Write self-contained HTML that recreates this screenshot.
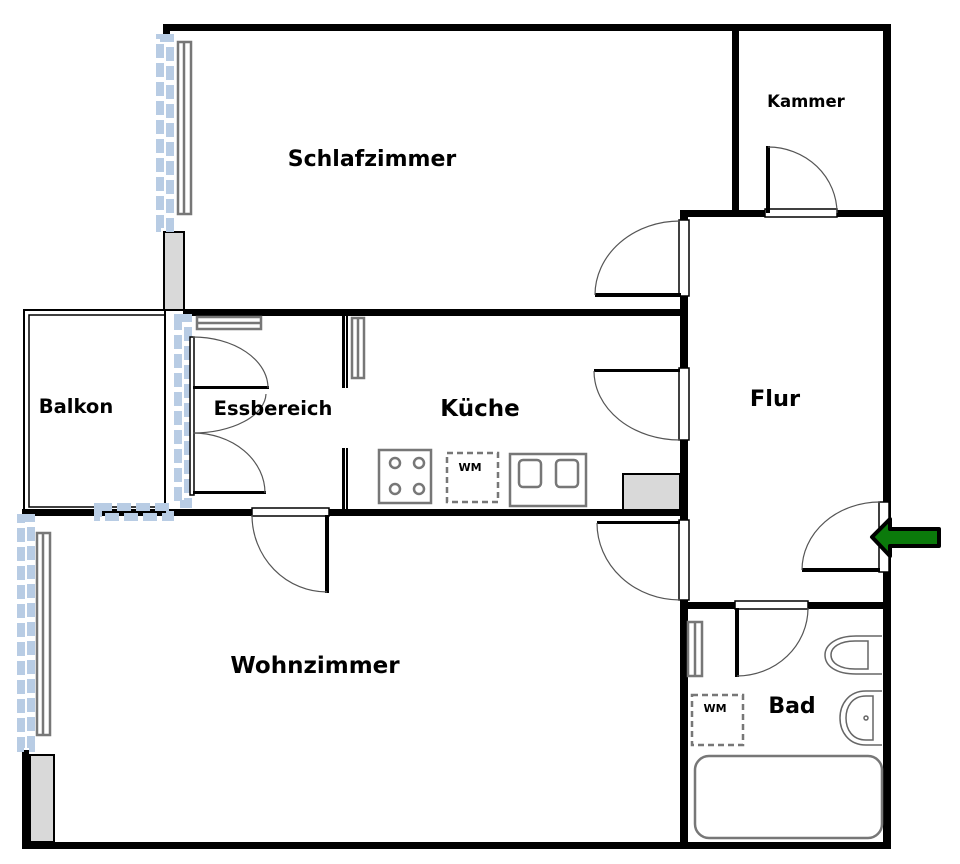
<!DOCTYPE html>
<html><head><meta charset="utf-8"><style>
html,body{margin:0;padding:0;background:#fff;}
svg{display:block}
text{font-family:"DejaVu Sans","Liberation Sans",sans-serif;font-weight:bold;fill:#000}
</style></head><body>
<svg width="960" height="864" viewBox="0 0 960 864" xmlns="http://www.w3.org/2000/svg">
<rect width="960" height="864" fill="#fff"/>
<rect x="24" y="310" width="141" height="202" fill="none" stroke="#000" stroke-width="2"/>
<rect x="29" y="315" width="136" height="192" fill="none" stroke="#000" stroke-width="1.5"/>
<g fill="#000">
<rect x="163" y="24" width="728" height="7"/>
<rect x="883" y="24" width="8" height="824"/>
<rect x="22" y="842" width="869" height="7"/>
<rect x="22" y="750" width="7" height="98"/>
<rect x="163" y="24" width="7" height="12"/>
<rect x="183" y="309" width="503" height="7"/>
<rect x="732" y="24" width="7" height="192"/>
<rect x="680" y="210" width="211" height="7"/>
<rect x="680" y="210" width="8" height="638"/>
<rect x="22" y="509" width="664" height="7"/>
<rect x="680" y="602" width="211" height="7"/>
</g>
<rect x="164" y="232" width="20" height="78" fill="#d9d9d9" stroke="#000" stroke-width="2"/>
<rect x="30" y="755" width="24" height="87" fill="#d9d9d9" stroke="#000" stroke-width="2"/>
<rect x="623" y="474" width="57" height="36" fill="#d9d9d9" stroke="#000" stroke-width="2"/>
<g fill="none" stroke="#b8cce4" stroke-width="8" stroke-dasharray="14,5">
<rect x="160" y="38" width="10" height="190"/>
<rect x="178" y="318" width="10" height="186"/>
<rect x="98" y="507" width="72" height="10"/>
<rect x="21" y="518" width="10" height="230"/>
</g>
<g fill="none" stroke="#777" stroke-width="2.5">
<rect x="178" y="42" width="13" height="172"/><line x1="184" y1="42" x2="184" y2="214"/>
<rect x="37" y="533" width="13" height="202"/><line x1="43" y1="533" x2="43" y2="735"/>
<rect x="197" y="317" width="64" height="12"/><line x1="197" y1="323" x2="261" y2="323"/>
<rect x="352" y="318" width="12" height="60"/><line x1="358" y1="318" x2="358" y2="378"/>
<rect x="688" y="622" width="14" height="54"/><line x1="695" y1="622" x2="695" y2="676"/>
</g>
<g fill="#000">
<rect x="342" y="316" width="3" height="72"/><rect x="346" y="316" width="2" height="72"/>
<rect x="342" y="448" width="3" height="62"/><rect x="346" y="448" width="2" height="62"/>
</g>
<g fill="#fff" stroke="#000" stroke-width="1.5">
<rect x="679" y="220" width="10" height="76"/>
<rect x="765" y="209" width="72" height="8"/>
<rect x="679" y="368" width="10" height="72"/>
<rect x="679" y="520" width="10" height="80"/>
<rect x="252" y="508" width="77" height="8"/>
<rect x="879" y="502" width="10" height="70"/>
<rect x="735" y="601" width="73" height="8"/>
<rect x="190" y="337" width="4" height="158"/>
</g>
<g fill="#000">
<rect x="595" y="293" width="86" height="4"/>
<rect x="766" y="146" width="4" height="67"/>
<rect x="594" y="369" width="86" height="3"/>
<rect x="597" y="521" width="83" height="3"/>
<rect x="325" y="515" width="4" height="78"/>
<rect x="193" y="386" width="76" height="3"/>
<rect x="193" y="491" width="73" height="3"/>
<rect x="802" y="568" width="78" height="4"/>
<rect x="735" y="608" width="4" height="69"/>
</g>
<g fill="none" stroke="#555" stroke-width="1.2">
<path d="M595,295 A85,74 0 0 1 680,221"/>
<path d="M768,147 A69,66 0 0 1 837,213"/>
<path d="M594,371 A86,69 0 0 0 680,440"/>
<path d="M597,523 A83,77 0 0 0 680,600"/>
<path d="M327,592 A75,77 0 0 1 252,515"/>
<path d="M268,388 A75,51 0 0 0 193,337"/>
<path d="M265,493 A72,60 0 0 0 193,433"/>
<path d="M266,394 A73,40 0 0 1 193,433"/>
<path d="M802,570 A78,68 0 0 1 880,502"/>
<path d="M737,676 A71,68 0 0 0 808,608"/>
</g>
<g fill="none" stroke="#777" stroke-width="2.5">
<rect x="379" y="450" width="52" height="53"/>
<circle cx="395" cy="463" r="5"/><circle cx="419" cy="463" r="5"/>
<circle cx="395" cy="489" r="5"/><circle cx="419" cy="489" r="5"/>
<rect x="447" y="453" width="51" height="49" stroke-dasharray="6,4"/>
<rect x="510" y="454" width="76" height="52"/>
<rect x="519" y="460" width="22" height="27" rx="4"/><rect x="556" y="460" width="22" height="27" rx="4"/>
<rect x="692" y="695" width="51" height="50" stroke-dasharray="6,4"/>
<rect x="695" y="756" width="187" height="82" rx="14"/>
</g>
<g fill="none" stroke="#666" stroke-width="1.5">
<path d="M882,636 L856,636 C836,636 825,645 825,655 C825,666 836,674 856,674 L882,674"/>
<path d="M868,641 L855,641 C840,641 831,647 831,655 C831,663 840,669 855,669 L868,669 Z"/>
<path d="M882,691 L866,691 C848,691 840,705 840,718 C840,731 848,745 866,745 L882,745"/>
<path d="M873,696 L866,696 C852,696 846,707 846,718 C846,729 852,740 866,740 L873,740 Z"/>
<circle cx="866" cy="718" r="2"/>
</g>
<path d="M872,537 L890,519 L890,529 L939,529 L939,546 L890,546 L890,556 Z" fill="#0b7a0b" stroke="#000" stroke-width="4" stroke-linejoin="round"/>
<text x="372" y="166" font-size="22" text-anchor="middle">Schlafzimmer</text>
<text x="806" y="107" font-size="16.5" text-anchor="middle">Kammer</text>
<text x="76" y="413" font-size="19.5" text-anchor="middle">Balkon</text>
<text x="273" y="415" font-size="19.5" text-anchor="middle">Essbereich</text>
<text x="480" y="416" font-size="23" text-anchor="middle">Küche</text>
<text x="775" y="406" font-size="22.5" text-anchor="middle">Flur</text>
<text x="315" y="673" font-size="23" text-anchor="middle">Wohnzimmer</text>
<text x="792" y="713" font-size="22" text-anchor="middle">Bad</text>
<text x="470" y="471" font-size="11" text-anchor="middle">WM</text>
<text x="715" y="712" font-size="11" text-anchor="middle">WM</text>
</svg>
</body></html>
